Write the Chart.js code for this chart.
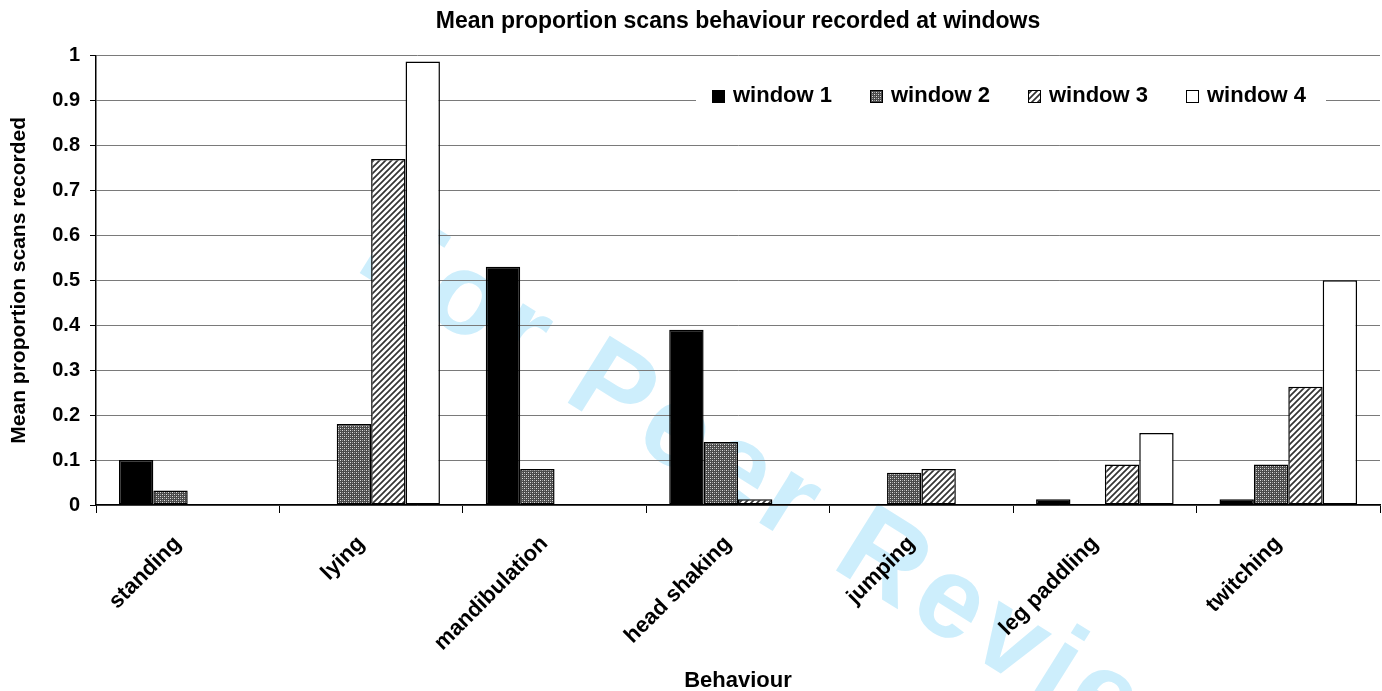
<!DOCTYPE html>
<html>
<head>
<meta charset="utf-8">
<title>Mean proportion scans behaviour recorded at windows</title>
<script src="https://cdn.jsdelivr.net/npm/chart.js@4.4.1/dist/chart.umd.min.js"></script>
<style>
  html, body { margin: 0; padding: 0; background: #fff; }
  #wrap { width: 1382px; height: 691px; position: relative; }
</style>
</head>
<body>
<div id="wrap"><canvas id="windowChart"></canvas></div>
<script>
// chart data
const behaviours = ['standing', 'lying', 'mandibulation', 'head shaking', 'jumping', 'leg paddling', 'twitching'];
const seriesNames = ['window 1', 'window 2', 'window 3', 'window 4'];
const window1 = [0.10, 0, 0.53, 0.39, 0, 0.013, 0.013];
const window2 = [0.032, 0.18, 0.08, 0.14, 0.072, 0, 0.09];
const window3 = [0, 0.77, 0, 0.013, 0.08, 0.09, 0.263];
const window4 = [0, 0.987, 0, 0, 0, 0.16, 0.50];

const chartTitle = 'Mean proportion scans behaviour recorded at windows';
const xTitle = 'Behaviour';
const yTitle = 'Mean proportion scans recorded';
const watermarkText = 'For Peer Review';

const FONT = '"Liberation Sans", Arial, Helvetica, sans-serif';

const canvas = document.getElementById('windowChart');
const mainCtx = canvas.getContext('2d');

// fill patterns like the old excel ones
function makePattern(kind)
{
    const tile = document.createElement('canvas');
    const t = tile.getContext('2d');
    if (kind == 'dots') {
        tile.width = 4; tile.height = 4;
        t.fillStyle = '#4a4a4a';
        t.fillRect(0, 0, 4, 4);
        t.fillStyle = '#dcdcdc';
        t.fillRect(0, 0, 1, 1); t.fillRect(2, 2, 1, 1);
        t.fillStyle = '#9c9c9c';
        t.fillRect(2, 0, 1, 1); t.fillRect(0, 2, 1, 1);
    } else {
        tile.width = 6; tile.height = 6;
        t.fillStyle = '#ffffff';
        t.fillRect(0, 0, 6, 6);
        t.strokeStyle = '#333333';
        t.lineWidth = 1.7;
        t.beginPath();
        t.moveTo(0, 6); t.lineTo(6, 0);
        t.moveTo(-3, 3); t.lineTo(3, -3);
        t.moveTo(3, 9); t.lineTo(9, 3);
        t.stroke();
    }
    return mainCtx.createPattern(tile, 'repeat');
}

const fills = ['#000000', makePattern('dots'), makePattern('stripes'), '#ffffff'];
const values = [window1, window2, window3, window4];

// white background + watermark behind everything
const backdrop = {
    id: 'backdrop',
    beforeDraw(chart) {
        const ctx = chart.ctx;
        ctx.save();
        ctx.fillStyle = '#fff';
        ctx.fillRect(0, 0, chart.width, chart.height);
        ctx.translate(370, 242);
        ctx.rotate(32 * Math.PI / 180);
        ctx.font = 'bold 115px ' + FONT;
        if ('letterSpacing' in ctx) ctx.letterSpacing = '7px';
        ctx.fillStyle = '#cdeefc';
        ctx.textAlign = 'left';
        ctx.textBaseline = 'middle';
        ctx.fillText(watermarkText, 0, 0);
        ctx.restore();
    }
};

// legend sits inside the plot, on a white strip over the 0.9 gridline
const boxLegend = {
    id: 'boxLegend',
    afterDatasetsDraw(chart) {
        const ctx = chart.ctx;
        ctx.save();
        ctx.fillStyle = '#fff';
        ctx.fillRect(696, 81, 630, 30);
        ctx.font = 'bold 22px ' + FONT;
        ctx.textBaseline = 'middle';
        ctx.textAlign = 'left';
        let x = 712;
        const cy = 96;
        chart.data.datasets.forEach(function (ds) {
            ctx.fillStyle = ds.backgroundColor;
            ctx.fillRect(x, cy - 6, 13, 13);
            ctx.strokeStyle = '#000';
            ctx.lineWidth = 1;
            ctx.strokeRect(x + 0.5, cy - 5.5, 12, 12);
            ctx.fillStyle = '#000';
            ctx.fillText(ds.label, x + 21, cy);
            x += 21 + ctx.measureText(ds.label).width + 38;
        });
        ctx.restore();
    }
};

const config = {
    type: 'bar',
    data: {
        labels: behaviours,
        datasets: seriesNames.map((name, i) => ({
            label: name,
            data: values[i],
            backgroundColor: fills[i],
            borderColor: '#000',
            borderWidth: 1.5,
            borderSkipped: false,
            barPercentage: 1,
            categoryPercentage: 0.75
        }))
    },
    options: {
        responsive: true,
        maintainAspectRatio: false,
        animation: false,
        layout: { padding: { top: 0, right: 2, bottom: 0, left: 0 } },
        plugins: {
            legend: { display: false },
            tooltip: { enabled: false },
            title: {
                display: true,
                text: chartTitle,
                fullSize: false,
                color: '#000',
                font: { family: FONT, size: 23, weight: 'bold', lineHeight: 1.2 },
                padding: { top: 8, bottom: 20 }
            }
        },
        scales: {
            x: {
                afterFit: function (scale) { scale.height = 186; },
                grid: {
                    display: true,
                    offset: true,
                    drawOnChartArea: false,
                    drawTicks: true,
                    tickLength: 8,
                    tickColor: '#000',
                    tickWidth: 1
                },
                border: { display: true, color: '#000', width: 1.5 },
                ticks: {
                    color: '#000',
                    autoSkip: false,
                    maxRotation: 45,
                    minRotation: 45,
                    padding: 18,
                    labelOffset: -10,
                    font: { family: FONT, size: 22, weight: 'bold' }
                },
                title: {
                    display: true,
                    text: xTitle,
                    color: '#000',
                    font: { family: FONT, size: 22, weight: 'bold', lineHeight: 1 },
                    padding: { top: 0, bottom: -1 }
                }
            },
            y: {
                min: 0,
                max: 1,
                afterFit: function (scale) { scale.width = 96; },
                grid: {
                    color: '#7a7a7a',
                    lineWidth: 1,
                    drawTicks: true,
                    tickLength: 6,
                    tickColor: '#000'
                },
                border: { display: true, color: '#000', width: 1.5 },
                ticks: {
                    stepSize: 0.1,
                    color: '#000',
                    padding: 10,
                    font: { family: FONT, size: 20, weight: 'bold' },
                    callback: function (value) { return String(Math.round(value * 10) / 10); }
                },
                title: {
                    display: true,
                    text: yTitle,
                    color: '#000',
                    font: { family: FONT, size: 21, weight: 'bold', lineHeight: 1.2 },
                    padding: { top: 7, bottom: 0 }
                }
            }
        }
    },
    plugins: [backdrop, boxLegend]
};

const myChart = new Chart(mainCtx, config);
</script>
</body>
</html>
